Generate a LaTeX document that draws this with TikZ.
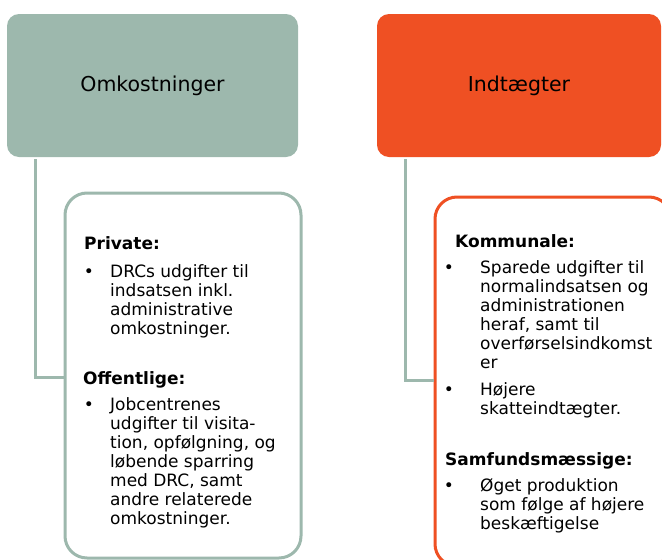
\documentclass[tikz,border=0pt]{standalone}
\usepackage{fontspec}
\setmainfont{DejaVu Sans}
\usepackage{xcolor}
\usepackage{tikz}
\usetikzlibrary{positioning}
\definecolor{sage}{HTML}{9DB8AD}
\definecolor{rust}{HTML}{EF5023}

\begin{document}
\begin{tikzpicture}[
  x=1pt, y=-1pt,
  head/.style={rectangle, rounded corners=12pt,
               minimum height=143pt, inner sep=0pt,
               font=\fontsize{20.5}{24}\selectfont},
  panel/.style={rectangle, line width=3pt, rounded corners=22pt,
                fill=white, minimum width=236pt},
  conn/.style={draw=sage, line width=3pt},
  txt/.style={anchor=base west, align=left, inner sep=0pt,
              font=\fontsize{17}{19}\selectfont},
  ttl/.style={txt, font=\fontsize{17}{19}\selectfont\bfseries},
  dot/.style={anchor=base, inner sep=0pt,
              font=\fontsize{17}{19}\selectfont}
]
\useasboundingbox (0,0) rectangle (662,560);

\node[head, fill=sage, minimum width=291pt] (omk) at (152.5,85.5) {Omkostninger};
\node[head, fill=rust, minimum width=284pt] (ind) at (519,85.5) {Indtægter};

\node[panel, draw=sage, minimum height=365pt] (priv) at (183,375.5) {};
\node[panel, draw=rust, minimum height=369pt] (komm) at (553,381.5) {};

\draw[conn] ([xshift=-117.5pt,yshift=-2pt]omk.south) |- ([yshift=-2pt]priv.west);
\draw[conn] ([xshift=-114pt,yshift=-2pt]ind.south) |- ([yshift=1pt]komm.west);

% omkostninger (multi-line texts sit on their last baseline)
\node[ttl] (privt) at (84,249) {Private:};
\node[dot] (b1) at (89,277) {•};
\node[txt] (t1) at (110,334) {DRCs udgifter til\\indsatsen inkl.\\administrative\\omkostninger.};
\node[ttl] (offt) at (83,384) {Offentlige:};
\node[dot] (b2) at (89,410) {•};
\node[txt] (t2) at (110,524) {Jobcentrenes\\udgifter til visita-\\tion, opfølgning, og\\løbende sparring\\med DRC, samt\\andre relaterede\\omkostninger.};

% indtaegter
\node[ttl] (kommt) at (455,247) {Kommunale:};
\node[dot] (b3) at (449,273) {•};
\node[txt] (t3) at (480,368) {Sparede udgifter til\\normalindsatsen og\\administrationen\\heraf, samt til\\overførselsindkomst\\er};
\node[dot] (b4) at (449,395) {•};
\node[txt] (t4) at (480,414) {Højere\\skatteindtægter.};
\node[ttl] (samft) at (445,465) {Samfundsmæssige:};
\node[dot] (b5) at (449,491) {•};
\node[txt] (t5) at (480,529) {Øget produktion\\som følge af højere\\beskæftigelse};

\end{tikzpicture}
\end{document}
